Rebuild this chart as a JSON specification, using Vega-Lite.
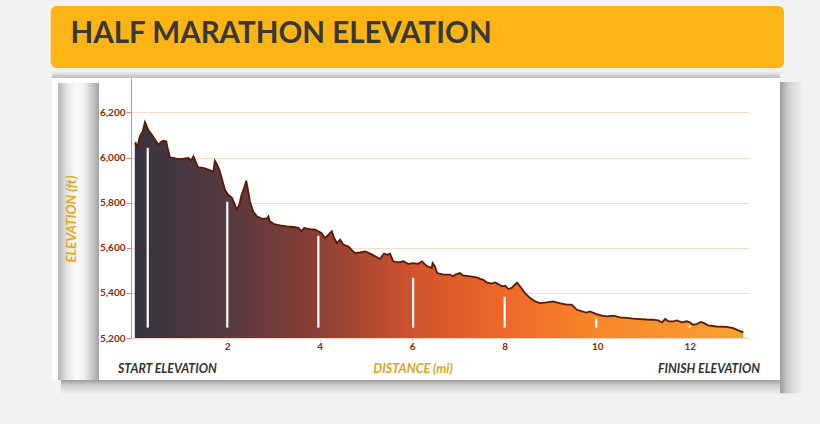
{
  "$schema": "https://vega.github.io/schema/vega-lite/v6.json",
  "width": 618,
  "height": 260,
  "autosize": {"type": "none"},
  "padding": {"left": 131, "top": 78, "right": 71, "bottom": 86},
  "background": "#ffffff",
  "config": {"view": {"stroke": null}, "font": "Lato"},
  "data": {"values": [
    {"d":0.00,"e":6058},{"d":0.02,"e":6064},{"d":0.05,"e":6042},{"d":0.11,"e":6094},{"d":0.17,"e":6116},
    {"d":0.22,"e":6157},{"d":0.26,"e":6138},{"d":0.29,"e":6123},{"d":0.37,"e":6101},{"d":0.44,"e":6079},
    {"d":0.51,"e":6057},{"d":0.58,"e":6071},{"d":0.62,"e":6075},{"d":0.68,"e":6071},{"d":0.71,"e":6042},
    {"d":0.76,"e":6001},{"d":0.83,"e":5998},{"d":0.94,"e":5993},{"d":1.05,"e":5995},{"d":1.16,"e":5998},
    {"d":1.22,"e":5987},{"d":1.27,"e":6005},{"d":1.30,"e":5990},{"d":1.37,"e":5956},{"d":1.48,"e":5954},
    {"d":1.59,"e":5946},{"d":1.70,"e":5938},{"d":1.73,"e":5986},{"d":1.78,"e":5968},{"d":1.83,"e":5946},
    {"d":1.86,"e":5924},{"d":1.95,"e":5857},{"d":2.02,"e":5835},{"d":2.10,"e":5823},{"d":2.15,"e":5798},
    {"d":2.20,"e":5769},{"d":2.26,"e":5791},{"d":2.31,"e":5835},{"d":2.36,"e":5862},{"d":2.41,"e":5897},
    {"d":2.44,"e":5865},{"d":2.49,"e":5805},{"d":2.56,"e":5761},{"d":2.64,"e":5739},{"d":2.74,"e":5729},
    {"d":2.85,"e":5729},{"d":2.89,"e":5739},{"d":2.92,"e":5717},{"d":3.01,"e":5705},{"d":3.14,"e":5699},
    {"d":3.29,"e":5695},{"d":3.43,"e":5692},{"d":3.54,"e":5688},{"d":3.61,"e":5673},{"d":3.66,"e":5688},
    {"d":3.79,"e":5683},{"d":3.90,"e":5680},{"d":3.97,"e":5673},{"d":4.04,"e":5665},{"d":4.11,"e":5643},
    {"d":4.19,"e":5658},{"d":4.26,"e":5673},{"d":4.31,"e":5643},{"d":4.37,"e":5621},{"d":4.44,"e":5636},
    {"d":4.51,"e":5614},{"d":4.62,"e":5606},{"d":4.69,"e":5591},{"d":4.76,"e":5577},{"d":4.87,"e":5579},
    {"d":4.98,"e":5584},{"d":5.09,"e":5574},{"d":5.20,"e":5562},{"d":5.30,"e":5550},{"d":5.39,"e":5574},
    {"d":5.46,"e":5569},{"d":5.52,"e":5574},{"d":5.59,"e":5540},{"d":5.70,"e":5535},{"d":5.81,"e":5540},
    {"d":5.92,"e":5528},{"d":6.02,"e":5532},{"d":6.13,"e":5529},{"d":6.21,"e":5540},{"d":6.31,"e":5520},
    {"d":6.42,"e":5510},{"d":6.44,"e":5532},{"d":6.49,"e":5517},{"d":6.54,"e":5488},{"d":6.67,"e":5481},
    {"d":6.82,"e":5481},{"d":6.88,"e":5473},{"d":6.93,"e":5481},{"d":7.03,"e":5488},{"d":7.10,"e":5477},
    {"d":7.25,"e":5473},{"d":7.39,"e":5469},{"d":7.47,"e":5462},{"d":7.54,"e":5458},{"d":7.61,"e":5446},
    {"d":7.72,"e":5441},{"d":7.79,"e":5446},{"d":7.86,"e":5439},{"d":7.94,"e":5429},{"d":8.01,"e":5432},
    {"d":8.08,"e":5417},{"d":8.15,"e":5422},{"d":8.22,"e":5436},{"d":8.27,"e":5446},{"d":8.33,"e":5429},
    {"d":8.44,"e":5399},{"d":8.55,"e":5377},{"d":8.66,"e":5362},{"d":8.76,"e":5355},{"d":8.91,"e":5358},
    {"d":9.05,"e":5362},{"d":9.12,"e":5358},{"d":9.23,"e":5352},{"d":9.34,"e":5348},{"d":9.45,"e":5348},
    {"d":9.56,"e":5325},{"d":9.67,"e":5318},{"d":9.77,"e":5313},{"d":9.84,"e":5318},{"d":9.99,"e":5306},
    {"d":10.10,"e":5299},{"d":10.21,"e":5296},{"d":10.35,"e":5299},{"d":10.49,"e":5291},{"d":10.64,"e":5289},
    {"d":10.78,"e":5286},{"d":10.93,"e":5284},{"d":11.07,"e":5282},{"d":11.21,"e":5281},{"d":11.32,"e":5278},
    {"d":11.40,"e":5269},{"d":11.47,"e":5284},{"d":11.54,"e":5274},{"d":11.65,"e":5274},{"d":11.72,"e":5278},
    {"d":11.83,"e":5269},{"d":11.94,"e":5274},{"d":12.01,"e":5269},{"d":12.07,"e":5259},{"d":12.15,"e":5262},
    {"d":12.24,"e":5271},{"d":12.31,"e":5266},{"d":12.40,"e":5256},{"d":12.58,"e":5251},{"d":12.80,"e":5249},
    {"d":12.94,"e":5244},{"d":13.05,"e":5234},{"d":13.16,"e":5225}
  ]},
  "layer": [
    {
      "mark": {
        "type": "area",
        "fill": {"gradient": "linear", "x1": 0, "y1": 0, "x2": 1, "y2": 0, "stops": [
          {"offset": 0, "color": "#37343f"},
          {"offset": 0.15, "color": "#56393f"},
          {"offset": 0.3, "color": "#8a3f35"},
          {"offset": 0.455, "color": "#cf532c"},
          {"offset": 0.61, "color": "#ef6828"},
          {"offset": 0.76, "color": "#f6862a"},
          {"offset": 1, "color": "#f8a232"}
        ]}
      },
      "encoding": {
        "x": {"field": "d", "type": "quantitative", "title": null, "scale": {"domain": [-0.082, 13.283], "nice": false, "zero": false},
          "axis": {"values": [2, 4, 6, 8, 10, 12], "title": null, "grid": false, "domainColor": "#f6d3bf", "tickColor": "#eec6ae", "tickSize": 3, "labelFont": "Lato", "labelFontSize": 10, "labelFontWeight": "bold", "labelColor": "#8b2a06", "labelPadding": 0}},
        "y": {"field": "e", "type": "quantitative", "title": null, "scale": {"domain": [5200, 6352.5], "nice": false, "zero": false},
          "axis": {"values": [5200, 5400, 5600, 5800, 6000, 6200], "labelExpr": "format(datum.value, ',')", "title": null, "grid": true, "gridColor": "#f7dccb", "domainColor": "#dc8a80", "tickColor": "#dc8a80", "tickSize": 5, "labelFont": "Lato", "labelFontSize": 10, "labelFontWeight": "bold", "labelColor": "#8b2a06", "labelPadding": 1}},
        "y2": {"datum": 5200}
      }
    },
    {
      "data": {"values": [{}]},
      "mark": {"type": "rect", "fill": "#f2f2f2"},
      "encoding": {
        "x": {"datum": -3.5, "title": null},
        "x2": {"datum": 15.5},
        "y": {"datum": 6352.5, "title": null},
        "y2": {"datum": 6800}
      }
    },
    {
      "data": {"values": [{}]},
      "mark": {"type": "rect", "fill": "#f2f2f2"},
      "encoding": {
        "x": {"datum": -3.5, "title": null},
        "x2": {"datum": -1.791},
        "y": {"datum": 4700, "title": null},
        "y2": {"datum": 6352.5}
      }
    },
    {
      "data": {"values": [{}]},
      "mark": {"type": "rect", "fill": "#f2f2f2"},
      "encoding": {
        "x": {"datum": 13.953, "title": null},
        "x2": {"datum": 15.5},
        "y": {"datum": 4700, "title": null},
        "y2": {"datum": 6352.5}
      }
    },
    {
      "data": {"values": [{}]},
      "mark": {"type": "rect", "fill": "#f2f2f2"},
      "encoding": {
        "x": {"datum": -1.791, "title": null},
        "x2": {"datum": 13.953},
        "y": {"datum": 4700, "title": null},
        "y2": {"datum": 5013.8}
      }
    },
    {
      "data": {"values": [{}]},
      "mark": {"type": "rect", "fill": {"gradient": "linear", "x1": 0, "y1": 0, "x2": 1, "y2": 0, "stops": [{"offset": 0, "color": "#9c9c9c"}, {"offset": 0.35, "color": "#cdcdcd"}, {"offset": 1, "color": "#f2f2f2"}]}},
      "encoding": {
        "x": {"datum": 13.953, "title": null},
        "x2": {"datum": 14.45},
        "y": {"datum": 4955, "title": null},
        "y2": {"datum": 6335}
      }
    },
    {
      "data": {"values": [{}]},
      "mark": {"type": "rect", "fill": {"gradient": "linear", "x1": 0, "y1": 0, "x2": 0, "y2": 1, "stops": [{"offset": 0, "color": "#9c9c9c"}, {"offset": 0.35, "color": "#cdcdcd"}, {"offset": 1, "color": "#f2f2f2"}]}},
      "encoding": {
        "x": {"datum": -1.6, "title": null},
        "x2": {"datum": 13.953},
        "y": {"datum": 4950, "title": null},
        "y2": {"datum": 5013.8}
      }
    },
    {
      "data": {"values": [{}]},
      "mark": {"type": "rect", "fill": {"gradient": "linear", "x1": 0, "y1": 0, "x2": 0, "y2": 1, "stops": [{"offset": 0, "color": "#f2f2f2"}, {"offset": 1, "color": "#bdbdbd"}]}},
      "encoding": {
        "x": {"datum": -1.791, "title": null},
        "x2": {"datum": 13.953},
        "y": {"datum": 6352.5, "title": null},
        "y2": {"datum": 6383}
      }
    },
    {
      "data": {"values": [{}]},
      "mark": {"type": "rect", "fill": "#fdb515", "cornerRadius": 6},
      "encoding": {
        "x": {"datum": -1.819, "title": null},
        "x2": {"datum": 14.04},
        "y": {"datum": 6396.8, "title": null},
        "y2": {"datum": 6671.6}
      }
    },
    {
      "data": {"values": [{}]},
      "mark": {"type": "rect", "fill": {"gradient": "linear", "x1": 0, "y1": 0, "x2": 1, "y2": 0, "stops": [{"offset": 0, "color": "#b4b4b4"}, {"offset": 0.22, "color": "#e4e4e4"}, {"offset": 0.45, "color": "#fbfbfb"}, {"offset": 0.65, "color": "#efefef"}, {"offset": 0.85, "color": "#c4c4c4"}, {"offset": 1, "color": "#a2a2a2"}]}},
      "encoding": {
        "x": {"datum": -1.661, "title": null},
        "x2": {"datum": -0.774},
        "y": {"datum": 5013.8, "title": null},
        "y2": {"datum": 6330.3}
      }
    },
    {
      "mark": {"type": "line", "color": "#5b1a02", "strokeWidth": 1.8},
      "encoding": {
        "x": {"field": "d", "type": "quantitative", "title": null},
        "y": {"field": "e", "type": "quantitative", "title": null}
      }
    },
    {
      "data": {"values": [
        {"mile": 0.28, "top": 6043}, {"mile": 2.0, "top": 5804}, {"mile": 3.97, "top": 5653},
        {"mile": 6.02, "top": 5467}, {"mile": 8.0, "top": 5383}, {"mile": 9.98, "top": 5286}, {"mile": 12.0, "top": 5255}
      ]},
      "mark": {"type": "rule", "color": "#ffffff", "strokeWidth": 2.2},
      "encoding": {
        "x": {"field": "mile", "type": "quantitative", "title": null},
        "y": {"field": "top", "type": "quantitative", "title": null},
        "y2": {"datum": 5246}
      }
    },
    {
      "data": {"values": [{"t": "HALF MARATHON ELEVATION"}]},
      "mark": {"type": "text", "align": "left", "baseline": "alphabetic", "font": "Lato", "fontSize": 29.5, "fontWeight": "bold", "color": "#383838"},
      "encoding": {"x": {"datum": -1.389, "title": null}, "y": {"datum": 6506, "title": null}, "text": {"field": "t"}}
    },
    {
      "data": {"values": [{"t": "ELEVATION (ft)"}]},
      "mark": {"type": "text", "align": "center", "baseline": "middle", "angle": 270, "font": "Lato", "fontSize": 13.5, "fontWeight": "bold", "fontStyle": "italic", "color": "#e8a81e"},
      "encoding": {"x": {"datum": -1.358, "title": null}, "y": {"datum": 5727, "title": null}, "text": {"field": "t"}}
    },
    {
      "data": {"values": [{"t": "DISTANCE (mi)"}]},
      "mark": {"type": "text", "align": "center", "baseline": "middle", "font": "Lato", "fontSize": 12.6, "fontWeight": "bold", "fontStyle": "italic", "color": "#e0a31c"},
      "encoding": {"x": {"datum": 6.017, "title": null}, "y": {"datum": 5062.6, "title": null}, "text": {"field": "t"}}
    },
    {
      "data": {"values": [{"t": "START ELEVATION"}]},
      "mark": {"type": "text", "align": "left", "baseline": "middle", "font": "Lato", "fontSize": 12.3, "fontWeight": "bold", "fontStyle": "italic", "color": "#333333"},
      "encoding": {"x": {"datum": -0.363, "title": null}, "y": {"datum": 5062.6, "title": null}, "text": {"field": "t"}}
    },
    {
      "data": {"values": [{"t": "FINISH ELEVATION"}]},
      "mark": {"type": "text", "align": "right", "baseline": "middle", "font": "Lato", "fontSize": 12.3, "fontWeight": "bold", "fontStyle": "italic", "color": "#333333"},
      "encoding": {"x": {"datum": 13.521, "title": null}, "y": {"datum": 5062.6, "title": null}, "text": {"field": "t"}}
    }
  ]
}
